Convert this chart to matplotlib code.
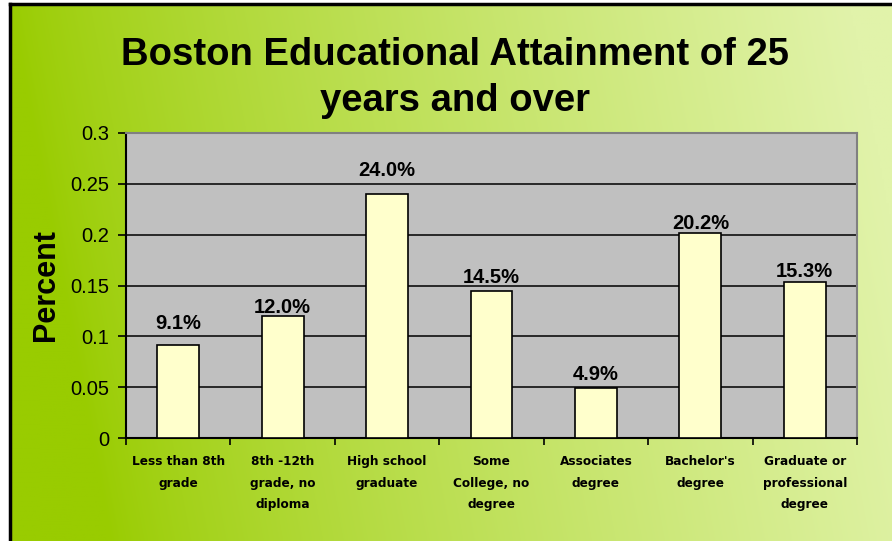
import numpy as np
import matplotlib
matplotlib.use("Agg")
import matplotlib.pyplot as plt
from matplotlib.lines import Line2D

categories = ["Less than 8th\ngrade", "8th -12th\ngrade, no\ndiploma", "High school\ngraduate",
              "Some\nCollege, no\ndegree", "Associates\ndegree", "Bachelor's\ndegree",
              "Graduate or\nprofessional\ndegree"]
values = [0.091, 0.120, 0.240, 0.145, 0.049, 0.202, 0.153]
labels = ["9.1%", "12.0%", "24.0%", "14.5%", "4.9%", "20.2%", "15.3%"]
yticks = [0, 0.05, 0.1, 0.15, 0.2, 0.25, 0.3]
ytick_labels = ["0", "0.05", "0.1", "0.15", "0.2", "0.25", "0.3"]

# label gap above each bar, in pixels (layout only)
label_gap_px = [16, 3, 18, 8, 8, 4, 5]

W, H = 892, 541
fig = plt.figure(figsize=(W / 100, H / 100), dpi=100)
fig.patch.set_facecolor("white")

# background gradient
bg = fig.add_axes([9 / W, 0, 1 - 9 / W, 1 - 3 / H], zorder=-10)
nx, ny = 400, 200
xx = np.linspace(0, 1, nx)[None, :]
yy = np.linspace(0, 1, ny)[:, None]  # 0 top, 1 bottom
t = np.clip(xx * 1.05 - 0.12 * yy, 0, 1) ** 0.8
c0 = np.array([153, 204, 0]) / 255
c1 = np.array([225, 243, 170]) / 255
img = c0[None, None, :] * (1 - t[..., None]) + c1[None, None, :] * t[..., None]
bg.imshow(img, aspect="auto", extent=[0, 1, 0, 1], interpolation="bilinear")
bg.set_axis_off()

# chart border (left and top)
fig.add_artist(Line2D([9.5 / W, 9.5 / W], [0, 1 - 3.5 / H], color="black", lw=2.5))
fig.add_artist(Line2D([9.5 / W, 1], [1 - 3.5 / H, 1 - 3.5 / H], color="black", lw=2.5))

ax = fig.add_axes([126 / W, 1 - 438 / H, (857 - 126) / W, (438 - 133) / H])
ax.set_facecolor("#c0c0c0")
x = np.arange(len(categories))
ax.bar(x, values, width=0.4, color="#ffffcc", edgecolor="black", linewidth=1.2, zorder=3)
ax.set_xlim(-0.5, len(categories) - 0.5)
ax.set_ylim(0, 0.3)
ax.set_yticks(yticks)
ax.set_yticklabels(ytick_labels, fontsize=14.5, family="Liberation Sans")
ax.yaxis.grid(True, color="black", linewidth=1.1, zorder=1)
ax.set_axisbelow(True)

ax.set_xticks(x)
ax.set_xticklabels(categories, fontsize=8.7, fontweight="bold", linespacing=1.85,
                   family="DejaVu Sans", va="top")
ax.tick_params(axis="x", which="major", length=0, pad=12.5)
ax.set_xticks(np.arange(len(categories) + 1) - 0.5, minor=True)
ax.tick_params(axis="x", which="minor", length=5, width=1.2, direction="out", color="black")
ax.tick_params(axis="y", length=6, width=1.2, direction="out", pad=6, color="black")

for s in ["left", "bottom"]:
    ax.spines[s].set_color("black")
    ax.spines[s].set_linewidth(1.5)
for s in ["top", "right"]:
    ax.spines[s].set_color("#808080")
    ax.spines[s].set_linewidth(1.5)

for xi, v, lab, gap in zip(x, values, labels, label_gap_px):
    ax.annotate(lab, (xi, v), xytext=(0, gap * 0.72), textcoords="offset points",
                ha="center", va="baseline", fontsize=14.5, fontweight="bold",
                family="Liberation Sans")

ax.set_ylabel("Percent", fontsize=22, fontweight="bold", family="Liberation Sans", labelpad=7)

fig.text(455 / W, 1 - 55 / H, "Boston Educational Attainment of 25", ha="center", va="center",
         fontsize=27.5, fontweight="bold", family="Liberation Sans")
fig.text(455 / W, 1 - 101 / H, "years and over", ha="center", va="center",
         fontsize=27.5, fontweight="bold", family="Liberation Sans")

fig.savefig("out.png", dpi=100)
